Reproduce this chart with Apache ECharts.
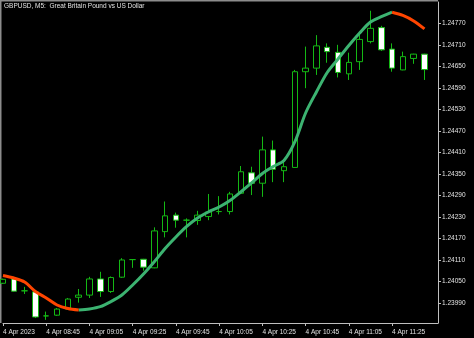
<!DOCTYPE html>
<html>
<head>
<meta charset="utf-8">
<script src="https://cdn.jsdelivr.net/npm/echarts@6/dist/echarts.min.js"></script>
<style>
html,body{margin:0;padding:0;background:#000;}
#c{width:474px;height:338px;}
</style>
</head>
<body>
<div id="c"></div>
<script>
const titleText = 'GBPUSD, M5:  Great Britain Pound vs US Dollar';

const times = ['08:25','08:30','08:35','08:40','08:45','08:50','08:55','09:00','09:05','09:10',
  '09:15','09:20','09:25','09:30','09:35','09:40','09:45','09:50','09:55','10:00',
  '10:05','10:10','10:15','10:20','10:25','10:30','10:35','10:40','10:45','10:50',
  '10:55','11:00','11:05','11:10','11:15','11:20','11:25','11:30','11:35','11:40'];

const opens  = [1.24045,1.24057,1.24024,1.24021,1.23954,1.23956,1.23973,1.24006,1.24012,1.24057,
  1.24022,1.24062,1.24111,1.24112,1.24088,1.24189,1.24235,1.24221,1.24220,1.24231,
  1.24245,1.24245,1.24296,1.24353,1.24324,1.24417,1.24359,1.24368,1.24635,1.24645,
  1.24703,1.24689,1.24629,1.24663,1.24719,1.24758,1.24698,1.24640,1.24672,1.24684];
const closes = [1.24056,1.24023,1.24024,1.23951,1.23954,1.23973,1.24001,1.24012,1.24057,1.24022,
  1.24061,1.24110,1.24111,1.24090,1.24191,1.24233,1.24221,1.24221,1.24235,1.24244,
  1.24245,1.24294,1.24356,1.24324,1.24417,1.24363,1.24370,1.24635,1.24645,1.24707,
  1.24691,1.24633,1.24661,1.24725,1.24756,1.24696,1.24645,1.24677,1.24684,1.24641];
const lows   = [1.24043,1.24021,1.24015,1.23948,1.23943,1.23954,1.23972,1.23991,1.24004,1.24007,
  1.24018,1.24060,1.24088,1.24080,1.24087,1.24173,1.24200,1.24173,1.24208,1.24221,
  1.24237,1.24237,1.24294,1.24291,1.24286,1.24327,1.24327,1.24367,1.24589,1.24626,
  1.24660,1.24619,1.24612,1.24640,1.24714,1.24693,1.24635,1.24639,1.24657,1.24612];
const highs  = [1.24058,1.24063,1.24035,1.24026,1.23966,1.23976,1.24004,1.24029,1.24063,1.24077,
  1.24064,1.24115,1.24112,1.24113,1.24201,1.24273,1.24242,1.24226,1.24247,1.24294,
  1.24288,1.24300,1.24372,1.24370,1.24454,1.24443,1.24389,1.24640,1.24705,1.24737,
  1.24714,1.24710,1.24688,1.24742,1.24805,1.24763,1.24714,1.24691,1.24685,1.24685];

const ma = [1.240667,1.240597,1.240486,1.240221,1.240039,1.239844,1.239747,1.239705,1.239733,1.239797,
  1.239942,1.240123,1.240402,1.240709,1.241052,1.241420,1.241741,1.242034,1.242271,1.242438,
  1.242577,1.242759,1.242996,1.243247,1.243512,1.243707,1.243874,1.244390,1.245199,1.245785,
  1.246329,1.246705,1.247082,1.247430,1.247737,1.247885,1.248010,1.247921,1.247767,1.247544];

const xTickIdx = [0,4,8,12,16,20,24,28,32,36];
const xTickLabels = ['4 Apr 2023','4 Apr 08:45','4 Apr 09:05','4 Apr 09:25','4 Apr 09:45',
  '4 Apr 10:05','4 Apr 10:25','4 Apr 10:45','4 Apr 11:05','4 Apr 11:25'];
const yTickVals = [1.23990,1.24050,1.24110,1.24170,1.24230,1.24290,1.24350,1.24410,
  1.24470,1.24530,1.24590,1.24650,1.24710,1.24770];

const FONT = 'Liberation Sans';
const AXIS_COLOR = '#bfbfbf';
const TEXT_COLOR = '#e2e2e2';
const BAR_GREEN = '#14b814';

const candleRows = times.map((t, i) => [i, opens[i], closes[i], lows[i], highs[i]]);

const upLine = [], downLine = [];
for (let i = 0; i < ma.length; i++) {
  const prevUp = i > 0 ? ma[i] >= ma[i - 1] : null;
  const nextUp = i < ma.length - 1 ? ma[i + 1] >= ma[i] : null;
  upLine.push((prevUp === true || nextUp === true) ? [i, ma[i]] : [i, '-']);
  downLine.push((prevUp === false || nextUp === false) ? [i, ma[i]] : [i, '-']);
}

const chart = echarts.init(document.getElementById('c'), null, {renderer: 'canvas'});
chart.setOption({
  backgroundColor: '#000000',
  animation: false,
  title: {
    text: titleText, left: 4, top: 3, padding: 0,
    textStyle: {color: TEXT_COLOR, fontSize: 6.5, fontWeight: 'normal', fontFamily: FONT}
  },
  grid: {left: 2, top: 2, right: 36, bottom: 15, containLabel: false},
  xAxis: {
    type: 'value', min: 0, max: 40.25,
    axisLine: {show: true, onZero: false, lineStyle: {color: AXIS_COLOR, width: 1}},
    axisTick: {show: true, customValues: xTickIdx, length: 3, lineStyle: {color: AXIS_COLOR}},
    axisLabel: {
      customValues: xTickIdx,
      formatter: v => { const k = xTickIdx.indexOf(v); return k >= 0 ? xTickLabels[k] : ''; },
      align: 'left', color: TEXT_COLOR, fontSize: 6.5, fontFamily: FONT, margin: 5.5
    },
    splitLine: {show: false}
  },
  yAxis: {
    type: 'value', position: 'right', scale: true,
    min: 1.239342, max: 1.248294,
    axisLine: {show: true, onZero: false, lineStyle: {color: AXIS_COLOR, width: 1}},
    axisTick: {show: true, customValues: yTickVals, length: 3, lineStyle: {color: AXIS_COLOR}},
    axisLabel: {
      customValues: yTickVals,
      formatter: v => v.toFixed(5),
      color: TEXT_COLOR, fontSize: 6.5, fontFamily: FONT, margin: 4
    },
    splitLine: {show: false}
  },
  graphic: [
    {type: 'rect', shape: {x: 0, y: 0, width: 438, height: 1.5}, style: {fill: '#8c8c8c'}, silent: true},
    {type: 'rect', shape: {x: 0, y: 0, width: 1.5, height: 323}, style: {fill: '#8c8c8c'}, silent: true}
  ],
  series: [
    {
      type: 'candlestick',
      data: candleRows,
      encode: {x: 0, y: [1, 2, 3, 4]},
      barWidth: 6,
      itemStyle: {
        color: '#000000', color0: '#ffffff',
        borderColor: BAR_GREEN, borderColor0: BAR_GREEN, borderWidth: 1
      },
      z: 2
    },
    {
      type: 'line', data: upLine, smooth: 0.3, showSymbol: false, connectNulls: false,
      lineStyle: {color: '#3cb371', width: 3}, z: 3
    },
    {
      type: 'line', data: downLine, smooth: 0.3, showSymbol: false, connectNulls: false,
      lineStyle: {color: '#ff4500', width: 3}, z: 3
    }
  ]
});
</script>
</body>
</html>
